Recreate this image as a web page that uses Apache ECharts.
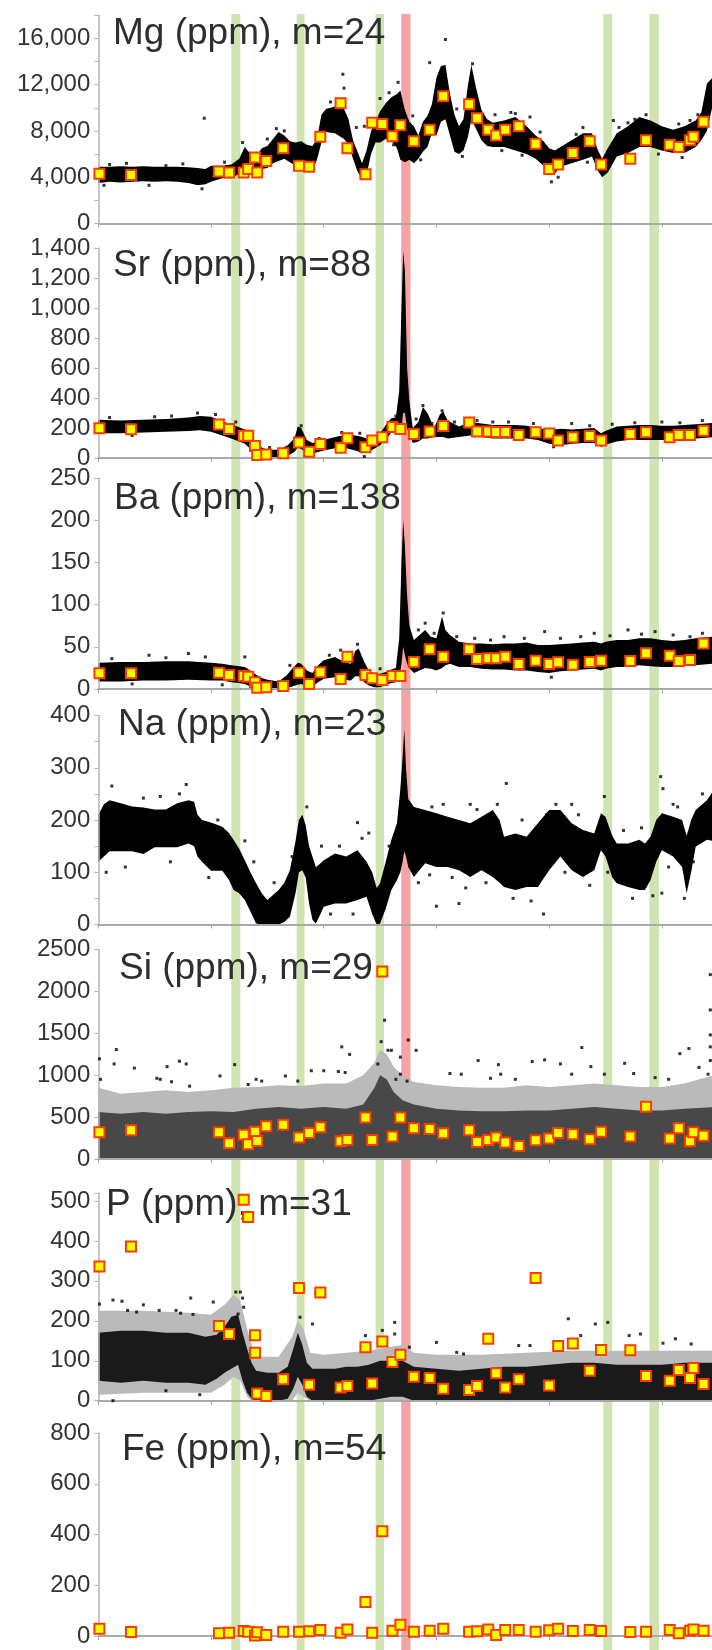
<!DOCTYPE html>
<html><head><meta charset="utf-8">
<script src="https://cdn.jsdelivr.net/npm/echarts/dist/echarts.min.js"></script>
<style>html,body{margin:0;padding:0;background:#fff}#c{width:712px;height:1650px}</style>
</head><body><div id="c"></div>
<script>
// ---------------- DATA ----------------
const titles = ['Mg (ppm), m=24','Sr (ppm), m=88','Ba (ppm), m=138','Na (ppm), m=23','Si (ppm), m=29','P (ppm), m=31','Fe (ppm), m=54'];
const yMax = [18000, 1400, 250, 400, 2500, 520, 800];
const yStep = [2000, 200, 50, 50, 500, 100, 200];
const yLabelEvery = [4000, 200, 50, 100, 500, 100, 200];
const yLabelTop = [16000, 1400, 250, 400, 2500, 500, 800];
const xMax = 544.5;
const xStep = 100;

const greenBands = [[118,126],[176,183],[246,253.5],[448,456],[489,497.5]];
const redBands = [[268.8,277]];

// laser-spot (square) positions, shared across elements
const squareX = [1,29,107,116,129,133,139,139,141,149,164,178,187,197,215,221,237,243,252,261,268,280,294,306,329,336,346,353,361,373,388,400,408,421,436,446,472,486,507,515,525,528,537];
const mgSq = [4300,4200,4500,4400,4400,4700,5700,null,4400,5400,6500,5000,4900,7500,10400,6500,4250,8700,8600,7550,8500,7100,8100,11000,10300,9100,8100,7600,8100,8400,6900,4700,5100,6100,7100,5100,5600,7200,6800,6600,7200,7500,8800];
const srSq = [198,191,224,193,149,149,80,null,20,24,31,104,42,93,69,131,71,116,138,207,193,160,176,213,236,176,176,173,173,153,171,164,116,138,147,116,160,171,138,153,153,null,182];
const baSq = [18.6,18.6,19.4,16.6,15.4,14.6,7.9,null,1.6,2,3.6,19.4,5.9,19.7,11.8,38.3,16.6,12.6,10.7,15.4,15.4,32,47,38.3,47,35.5,36.3,36.3,38.3,29.6,33.6,29.6,31.6,28.8,32,33.6,33.2,42.3,39.5,33.2,34.4,null,54];
const naSq = [];
const siSq = [318,343,318,188,290,175,326,null,216,392,408,257,310,379,212,228,494,228,2236,269,494,367,359,306,343,204,228,257,196,155,224,245,310,294,237,326,269,624,245,367,212,318,277];
const pSq = [336,386,187,167,503,460,164,120,18,12,54,282,40,271,33,37,134,43,148,97,115,60,57,30,27,37,155,69,33,54,307,38,137,143,75,127,126,62,50,77,57,82,42];
const feSq = [29,16,11,13,20,17,2,null,15,4,17,17,19,24,13,26,134,13,413,21,44,17,21,29,17,19,26,4,24,24,17,23,29,20,24,20,16,17,24,11,21,26,21];

// dense LA-ICP-MS signal cloud: [x, low, high]
const mgCore = [[0,3500,4900],[10,3600,4900],[20,3550,4950],[30,3600,4900],[40,3650,4950],[50,3600,4900],[60,3650,4900],[70,3600,4900],[80,3500,4850],[88,3300,4800],[95,3400,4700],[100,3600,5000],[110,3900,5000],[118,3900,5100],[125,4300,5600],[130,4200,6600],[135,4400,6000],[140,4100,5800],[145,4700,6500],[150,4800,6700],[155,5200,7300],[160,5400,7900],[165,5600,7600],[170,5300,7100],[175,5000,7000],[180,4900,7100],[185,4700,6800],[190,4600,6700],[194,5500,7300],[198,7000,9400],[202,7900,9900],[210,7800,10100],[218,7300,9900],[222,6800,9000],[226,5600,7200],[230,4500,6200],[234,3800,5200],[238,4200,6300],[242,6000,8000],[246,7000,8800],[250,7000,9700],[255,7300,10400],[260,7200,10900],[265,6500,11200],[268,5500,11500],[272,5300,9800],[276,5500,8800],[280,5200,8400],[284,5600,7600],[288,6200,8800],[292,6600,9300],[296,7800,10300],[300,7600,12600],[304,8800,13600],[308,9000,13700],[312,7600,11200],[316,6200,9400],[320,6000,8400],[324,6300,9000],[328,7500,12000],[331,9000,13700],[335,8200,11800],[340,7200,9800],[345,6700,9000],[350,6600,8700],[360,6600,8900],[370,6300,9200],[380,6000,8400],[388,5600,7600],[395,5000,7100],[400,4300,6500],[405,4300,6300],[410,4900,6600],[420,5200,7200],[430,5500,7800],[438,5800,7800],[443,4600,6400],[447,4000,5600],[452,4400,6500],[460,5800,7800],[470,6100,8400],[480,6600,9200],[490,6600,8900],[500,6300,8400],[510,6100,8100],[520,6100,8400],[530,6600,8900],[535,7200,9600],[540,8000,12100],[546,10600,12700]];
const mgOut = [[94,9100],[217,12900],[218,11700],[229,8300],[294,13900],[308,15900],[332,13800],[402,3600],[415,5800],[457,8900],[430,8300],[250,10800],[266,12200],[300,8300],[197,7900],[236,8400],[370,9500],[383,9200],[338,9600],[470,8700],[525,8900],[10,5100],[60,5000],[150,7300],[165,8000],[5,3300],[25,5200],[45,3300],[75,5150],[92,3000],[112,5300],[128,7000],[158,8200],[186,6200],[206,10500],[214,10700],[244,8600],[258,11300],[262,6800],[279,9300],[286,5500],[318,9900],[323,5800],[352,9400],[358,6300],[366,9600],[376,5900],[392,7900],[408,4000],[424,7700],[434,5300],[462,8300],[476,9000],[486,9400],[497,6000],[515,8600],[518,5700],[532,9400]];

const srCore = [[0,165,255],[20,165,250],[40,170,255],[60,175,260],[80,180,270],[90,185,280],[100,175,275],[110,150,245],[118,130,225],[125,110,205],[130,95,190],[135,60,150],[140,10,100],[145,0,70],[150,0,55],[160,0,55],[168,15,85],[174,40,130],[177,70,210],[180,60,200],[185,35,120],[190,30,100],[200,50,120],[210,65,140],[220,65,155],[228,50,150],[232,40,145],[240,40,125],[250,85,165],[256,130,230],[260,170,265],[264,180,270],[267,150,450],[269,200,1000],[270.5,300,1380],[272,300,1250],[274,200,600],[276,160,380],[279,100,200],[284,110,240],[288,130,340],[292,130,300],[298,140,200],[303,140,290],[306,140,310],[310,130,250],[320,140,210],[330,150,240],[340,140,230],[350,130,220],[360,130,220],[370,130,220],[380,130,215],[390,120,200],[400,95,185],[405,90,190],[410,85,195],[420,95,190],[430,100,195],[440,100,200],[446,75,165],[450,90,180],[460,110,210],[470,120,215],[480,120,220],[490,120,220],[500,120,215],[510,120,215],[520,125,220],[530,130,225],[546,140,235]];
const srOut = [[88,300],[50,275],[180,215],[232,165],[288,350],[305,315],[264,280],[236,10],[350,240],[420,230],[10,270],[30,150],[65,280],[104,290],[122,240],[152,70],[196,130],[216,170],[246,140],[282,260],[296,230],[316,240],[336,250],[364,240],[386,230],[404,75],[436,215],[456,225],[476,235],[500,240],[516,235],[536,250]];

const baCore = [[0,9,31],[20,9,32],[40,10,32],[60,10,33],[80,11,33],[100,10,31],[110,10,30],[118,8,28],[125,7,27],[130,6,26],[135,3,22],[140,1,17],[145,0,13],[150,0,11],[160,0,9],[167,1,16],[172,3,24],[177,5,31],[180,6,30],[185,3,22],[190,3,19],[195,8,28],[200,12,34],[210,14,38],[218,11,32],[224,10,30],[228,15,45],[231,15,48],[236,8,32],[240,4,22],[245,2,18],[250,2,18],[255,5,20],[260,7,23],[264,8,25],[267,10,60],[269,30,150],[270.5,50,200],[272,40,170],[274,30,110],[276,25,75],[280,19,58],[285,22,64],[290,25,70],[295,24,62],[300,22,60],[305,25,86],[308,28,70],[312,30,64],[320,26,56],[330,26,54],[340,24,54],[350,23,53],[360,23,54],[370,22,54],[380,22,55],[390,20,52],[400,19,52],[410,21,53],[420,22,54],[430,23,55],[440,24,56],[446,22,54],[450,24,56],[460,26,58],[470,26,58],[480,28,60],[490,27,60],[500,26,58],[510,26,57],[520,27,58],[530,28,60],[546,30,62]];
const baOut = [[45,40],[80,42],[130,38],[215,46],[230,53],[290,78],[306,90],[360,62],[396,68],[440,66],[494,68],[525,62],[470,70],[12,36],[30,6],[60,37],[95,38],[110,5],[170,28],[205,40],[250,24],[284,70],[298,66],[318,62],[334,60],[348,58],[378,60],[410,60],[428,62],[454,63],[482,65],[510,64],[536,66],[402,14]];

const naCore = [[0,120,210],[5,130,230],[10,140,238],[20,140,232],[30,140,226],[40,135,224],[50,148,220],[60,148,220],[70,148,232],[80,155,238],[85,150,235],[88,130,210],[92,120,200],[100,103,195],[110,103,187],[116,85,175],[120,66,162],[125,60,145],[130,47,123],[135,25,100],[140,2,79],[145,0,60],[150,0,47],[160,0,66],[165,5,80],[170,15,104],[175,60,160],[178,100,200],[181,104,210],[184,90,190],[187,40,150],[190,9,130],[193,2,110],[196,15,115],[200,34,123],[210,40,136],[220,40,130],[230,47,142],[238,53,120],[243,20,100],[247,0,70],[250,2,79],[255,30,120],[260,66,162],[265,85,194],[268,100,260],[270,120,320],[271.5,140,375],[273,130,300],[275,110,240],[280,91,225],[290,117,219],[300,110,213],[310,110,206],[320,104,200],[330,91,194],[340,104,206],[350,91,219],[356,80,200],[360,72,168],[370,66,174],[380,72,168],[390,72,194],[400,104,219],[410,130,219],[420,104,194],[430,91,181],[440,104,174],[446,142,213],[450,130,206],[456,90,170],[460,79,155],[470,72,155],[480,66,162],[485,66,155],[490,85,168],[495,120,200],[500,142,213],[510,130,206],[518,110,200],[522,60,170],[526,100,200],[530,149,219],[540,162,238],[546,160,257]];
const naOut = [[7,100],[12,265],[40,242],[72,250],[78,268],[130,160],[185,225],[230,195],[240,175],[296,225],[330,230],[362,270],[320,40],[395,20],[406,230],[420,230],[449,245],[499,283],[501,260],[510,230],[520,50],[300,35],[500,60],[24,110],[55,245],[64,120],[98,90],[106,200],[138,120],[156,80],[172,130],[198,150],[206,20],[214,150],[226,20],[234,165],[258,150],[284,80],[294,95],[306,230],[314,90],[326,70],[336,220],[344,80],[354,230],[368,50],[376,200],[384,45],[398,210],[414,100],[426,210],[436,75],[452,100],[466,180],[474,50],[482,185],[492,55],[506,110],[514,225],[528,120],[536,250]];

const siCore = [[0,0,560],[20,0,540],[40,0,560],[60,0,540],[80,0,560],[100,0,570],[120,0,560],[140,0,600],[160,0,620],[180,0,600],[200,0,620],[220,0,600],[235,0,650],[245,0,850],[250,0,1000],[256,0,950],[262,0,800],[270,0,700],[280,0,650],[300,0,600],[320,0,580],[340,0,570],[360,0,570],[380,0,580],[400,0,580],[420,0,600],[440,0,620],[460,0,600],[480,0,580],[500,0,580],[520,0,600],[546,0,620]];
const siFringe = [[0,0,850],[20,0,780],[40,0,800],[60,0,820],[80,0,800],[100,0,820],[120,0,850],[140,0,860],[160,0,880],[180,0,870],[200,0,900],[220,0,900],[235,0,1000],[245,0,1150],[250,0,1300],[256,0,1250],[262,0,1100],[270,0,1000],[280,0,920],[300,0,880],[320,0,860],[340,0,850],[360,0,850],[380,0,880],[400,0,860],[420,0,880],[440,0,900],[460,0,880],[480,0,860],[500,0,860],[520,0,900],[546,0,1000]];
const siOut = [[1,1195],[2,951],[16,1306],[14,1134],[32,1085],[61,1102],[65,922],[72,1167],[78,1134],[55,951],[52,963],[81,869],[108,991],[121,1126],[133,889],[140,951],[145,930],[166,991],[177,930],[189,1053],[200,1053],[213,1044],[216,1338],[223,1248],[219,1032],[254,1656],[251,1400],[248,1134],[257,1297],[260,1297],[268,1216],[275,1420],[282,1297],[268,1012],[274,930],[264,951],[312,1020],[322,1012],[337,1175],[348,963],[355,1126],[357,1012],[370,951],[385,1163],[396,1183],[410,1134],[420,1012],[429,1330],[437,1102],[449,1012],[467,1142],[475,1020],[494,971],[506,951],[516,1257],[524,1318],[533,1093],[543,2200],[543,1779],[543,1481],[543,1338],[543,1175],[541,1012]];

const pCore = [[0,50,170],[20,45,175],[40,50,175],[60,45,170],[80,45,170],[95,40,160],[105,55,165],[112,70,185],[118,80,210],[124,90,215],[128,50,170],[132,20,130],[136,5,95],[140,0,75],[150,0,70],[160,0,70],[168,5,85],[173,30,130],[177,60,170],[181,40,140],[185,10,95],[190,0,80],[200,0,80],[210,0,80],[220,0,85],[230,0,85],[240,0,90],[250,5,100],[260,10,100],[270,10,100],[280,0,85],[300,0,80],[320,0,75],[340,0,80],[360,0,85],[380,0,85],[400,0,90],[420,0,95],[440,0,95],[460,0,90],[480,0,90],[500,0,90],[520,0,95],[546,0,95]];
const pFringe = [[0,15,225],[40,20,225],[80,20,220],[100,20,215],[112,40,240],[120,60,265],[126,50,250],[132,10,180],[136,0,140],[140,0,110],[160,0,110],[172,0,160],[177,20,200],[182,10,180],[188,0,120],[200,0,115],[240,0,125],[260,0,135],[270,0,140],[280,0,120],[300,0,115],[340,0,115],[380,0,120],[420,0,125],[460,0,125],[500,0,125],[546,0,125]];
const pOut = [[1,242],[13,252],[21,249],[26,226],[34,222],[54,226],[69,226],[73,219],[82,257],[84,216],[102,247],[122,272],[126,272],[128,257],[129,234],[124,217],[193,270],[179,209],[190,192],[237,163],[252,176],[263,167],[263,196],[276,134],[300,146],[318,121],[324,117],[373,138],[383,138],[417,205],[428,163],[441,192],[452,196],[471,163],[481,167],[501,144],[512,155],[526,142],[13,0],[60,25],[90,15],[40,240]];

// ---------------- LAYOUT ----------------
const L = 98.3, W = 613.7;
const gTop = [15.2, 248, 478, 715.5, 949.5, 1193, 1433];
const gBot = [223.5, 458, 689, 924.5, 1159, 1400.7, 1636];
const tLeft = [113, 113, 114, 118, 119, 106, 122];
const tTop = [15.7, 247.7, 480, 706.7, 950, 1186, 1431.7];

const sqVals = [mgSq, srSq, baSq, naSq, siSq, pSq, feSq];
const cores = [mgCore, srCore, baCore, naCore, siCore, pCore, null];
const fringes = [null, null, null, null, siFringe, pFringe, null];
const outs = [mgOut, srOut, baOut, naOut, siOut, pOut, null];
const coreColor = ['#000','#000','#000','#000','#484848','#1a1a1a'];

function fmt(i) {
  return function (v) {
    if (Math.abs(v % yLabelEvery[i]) > 1e-6 || v > yLabelTop[i]) return '';
    return (i < 2) ? v.toLocaleString('en-US') : String(v);
  };
}
function polySeries(gi, rows, color, z) {
  return {
    type: 'custom', xAxisIndex: gi, yAxisIndex: gi, z: z, silent: true, clip: true,
    data: rows, encode: { x: 0, y: [1, 2] },
    renderItem: function (params, api) {
      if (params.dataIndex !== 0) return null;
      const up = rows.map(r => api.coord([r[0], r[2]]));
      const dn = rows.map(r => api.coord([r[0], r[1]])).reverse();
      return { type: 'polygon', shape: { points: up.concat(dn) }, style: { fill: color } };
    }
  };
}
function bandSeries(rows, color) {
  return {
    type: 'custom', xAxisIndex: 7, yAxisIndex: 7, z: 1, silent: true,
    data: rows, encode: { x: [0, 1] },
    renderItem: function (params, api) {
      const a = api.coord([api.value(0), 1]);
      const b = api.coord([api.value(1), 0]);
      return { type: 'rect', shape: { x: a[0], y: a[1], width: b[0] - a[0], height: b[1] - a[1] }, style: { fill: color } };
    }
  };
}

const grid = [], xAxis = [], yAxis = [], series = [], title = [];
for (let i = 0; i < 7; i++) {
  grid.push({ left: L, width: W, top: gTop[i], height: gBot[i] - gTop[i], outerBoundsMode: 'none', containLabel: false });
  xAxis.push({ type: 'value', gridIndex: i, min: 0, max: xMax, interval: xStep, z: 3,
    axisLine: { show: true, onZero: false, lineStyle: { color: '#a9a9a9', width: 2 } },
    axisTick: { show: true, length: 4, lineStyle: { color: '#a9a9a9' } },
    axisLabel: { show: false }, splitLine: { show: false } });
  yAxis.push({ type: 'value', gridIndex: i, min: 0, max: yMax[i], interval: yStep[i], z: 3,
    axisLine: { show: true, lineStyle: { color: '#b4b4b4', width: 1.5 } },
    axisTick: { show: true, length: 4, lineStyle: { color: '#b4b4b4' } },
    axisLabel: { show: true, margin: 8, formatter: fmt(i), color: '#333', fontSize: 24, fontFamily: 'Liberation Sans' },
    splitLine: { show: false } });
  title.push({ text: titles[i], left: tLeft[i], top: tTop[i], padding: 0, z: 2,
    textStyle: { fontSize: 37, fontWeight: 'normal', color: '#2e2e2e', fontFamily: 'Liberation Sans' } });
  if (fringes[i]) series.push(polySeries(i, fringes[i], '#bababa', 2));
  if (cores[i]) series.push(polySeries(i, cores[i], coreColor[i], 3));
  if (outs[i]) series.push({ type: 'scatter', xAxisIndex: i, yAxisIndex: i, z: 4, silent: true,
    symbol: 'rect', symbolSize: 3, itemStyle: { color: '#000' }, data: outs[i] });
  const sq = [];
  sqVals[i].forEach((v, k) => { if (v !== null && v !== undefined) sq.push([squareX[k], v]); });
  if (sq.length) series.push({ type: 'scatter', xAxisIndex: i, yAxisIndex: i, z: 6, silent: true,
    symbol: 'rect', symbolSize: 10,
    itemStyle: { color: '#ffff00', borderColor: '#ff3a00', borderWidth: 2, opacity: 1 }, data: sq });
}
// full-height band overlay grid
grid.push({ left: L, width: W, top: 14, height: 1636, outerBoundsMode: 'none', containLabel: false });
xAxis.push({ type: 'value', gridIndex: 7, min: 0, max: xMax, show: false });
yAxis.push({ type: 'value', gridIndex: 7, min: 0, max: 1, show: false });
series.push(bandSeries(greenBands, '#cfe4b1'));
series.push(bandSeries(redBands, '#f5a4a4'));

const chart = echarts.init(document.getElementById('c'), null, { renderer: 'canvas' });
chart.setOption({ animation: false, backgroundColor: '#fff', title, grid, xAxis, yAxis, series });
</script></body></html>
